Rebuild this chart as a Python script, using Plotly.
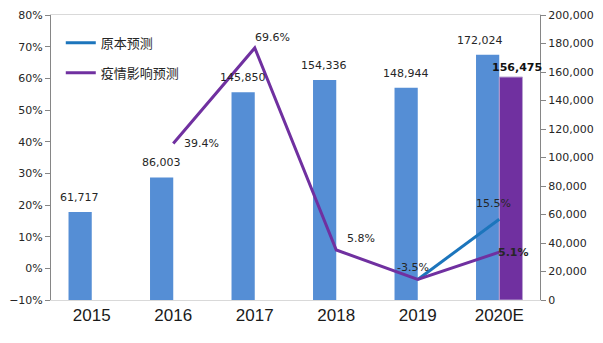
import plotly.graph_objects as go

categories = ["2015", "2016", "2017", "2018", "2019", "2020E"]
sales_original = [61717, 86003, 145850, 154336, 148944, 172024]
sales_epidemic = [None, None, None, None, None, 156475]
growth_original = [None, None, None, None, -3.5, 15.5]
growth_epidemic = [None, 39.4, 69.6, 5.8, -3.5, 5.1]
growth_original_labels = [None, None, None, None, None, "15.5%"]
growth_epidemic_labels = [None, "39.4%", "69.6%", "5.8%", "-3.5%", "<b>5.1%</b>"]

BAR_BLUE = "#558ED5"
PURPLE = "#7030A0"
LINE_BLUE = "#1C75BC"
TXT = "#262626"
NUM_FONT = "DejaVu Sans"

fig = go.Figure()

fig.add_trace(go.Bar(
    x=categories, y=sales_original, yaxis="y", marker_color=BAR_BLUE,
    showlegend=False, marker_line_width=0,
))
fig.add_trace(go.Bar(
    x=categories, y=sales_epidemic, yaxis="y", marker_color=PURPLE,
    showlegend=False, marker_line=dict(color="#B9A3D0", width=1),
))
fig.add_trace(go.Scatter(
    x=categories, y=growth_original, yaxis="y2", mode="lines",
    line=dict(color=LINE_BLUE, width=3), name="原本预测", legend="legend",
))
fig.add_trace(go.Scatter(
    x=categories, y=growth_epidemic, yaxis="y2", mode="lines",
    line=dict(color=PURPLE, width=3), name="疫情影响预测", legend="legend2",
))

annotations = []
# bar value labels (offsets are style only)
blue_xshift = [-12, -12, -12, -12, -12, -19]
for i, v in enumerate(sales_original):
    annotations.append(dict(x=i, y=v, xref="x", yref="y", text=f"{v:,}", showarrow=False,
                            xshift=blue_xshift[i], yshift=6, yanchor="bottom",
                            font=dict(family=NUM_FONT, size=11, color=TXT)))
for i, v in enumerate(sales_epidemic):
    if v is not None:
        annotations.append(dict(x=i, y=v, xref="x", yref="y", text=f"<b>{v:,}</b>", showarrow=False,
                                xshift=18, yshift=1, yanchor="bottom",
                                font=dict(family=NUM_FONT, size=11, color="#111111")))

# line value labels (offsets are style only)
epi_offsets = [None, (28, 0), (18, 10), (25, 11), (-5, 12), (14, 0)]
orig_offsets = [None, None, None, None, None, (-6, 16)]
for i, (val, lab, off) in enumerate(zip(growth_epidemic, growth_epidemic_labels, epi_offsets)):
    if lab:
        annotations.append(dict(x=i, y=val, xref="x", yref="y2", text=lab, showarrow=False,
                                xshift=off[0], yshift=off[1],
                                font=dict(family=NUM_FONT, size=11, color=TXT)))
for i, (val, lab, off) in enumerate(zip(growth_original, growth_original_labels, orig_offsets)):
    if lab:
        annotations.append(dict(x=i, y=val, xref="x", yref="y2", text=lab, showarrow=False,
                                xshift=off[0], yshift=off[1],
                                font=dict(family=NUM_FONT, size=11, color=TXT)))

fig.update_layout(
    width=603, height=343,
    margin=dict(l=43, r=57, t=9, b=43),
    paper_bgcolor="white", plot_bgcolor="white",
    barmode="group", bargap=0.43, bargroupgap=0,
    annotations=annotations,
    xaxis=dict(
        type="category", categoryorder="array", categoryarray=categories,
        range=[-0.5, len(categories) - 0.5],
        showline=True, mirror=True, linecolor="#D9D9D9", linewidth=1,
        ticks="", showgrid=False,
        tickfont=dict(family="Liberation Sans", size=17, color="#1a1a1a"),
    ),
    yaxis=dict(
        side="right", range=[0, 200000], dtick=20000, tickformat=",",
        showgrid=False, zeroline=False, showline=True, linecolor="#868686", linewidth=1,
        ticks="outside", ticklen=5, tickcolor="#868686",
        tickfont=dict(family=NUM_FONT, size=11, color=TXT),
    ),
    yaxis2=dict(
        overlaying="y", side="left", range=[-10, 80], dtick=10, ticksuffix="%",
        showgrid=False, zeroline=False, showline=True, linecolor="#868686", linewidth=1,
        ticks="outside", ticklen=5, tickcolor="#868686",
        tickfont=dict(family=NUM_FONT, size=11, color=TXT),
    ),
    legend=dict(x=0.02, y=0.955, xanchor="left", yanchor="top", bgcolor="rgba(0,0,0,0)",
                font=dict(family="Noto Sans CJK SC", size=13, color=TXT)),
    legend2=dict(x=0.02, y=0.85, xanchor="left", yanchor="top", bgcolor="rgba(0,0,0,0)",
                 font=dict(family="Noto Sans CJK SC", size=13, color=TXT)),
)

fig.write_html("out.html")
